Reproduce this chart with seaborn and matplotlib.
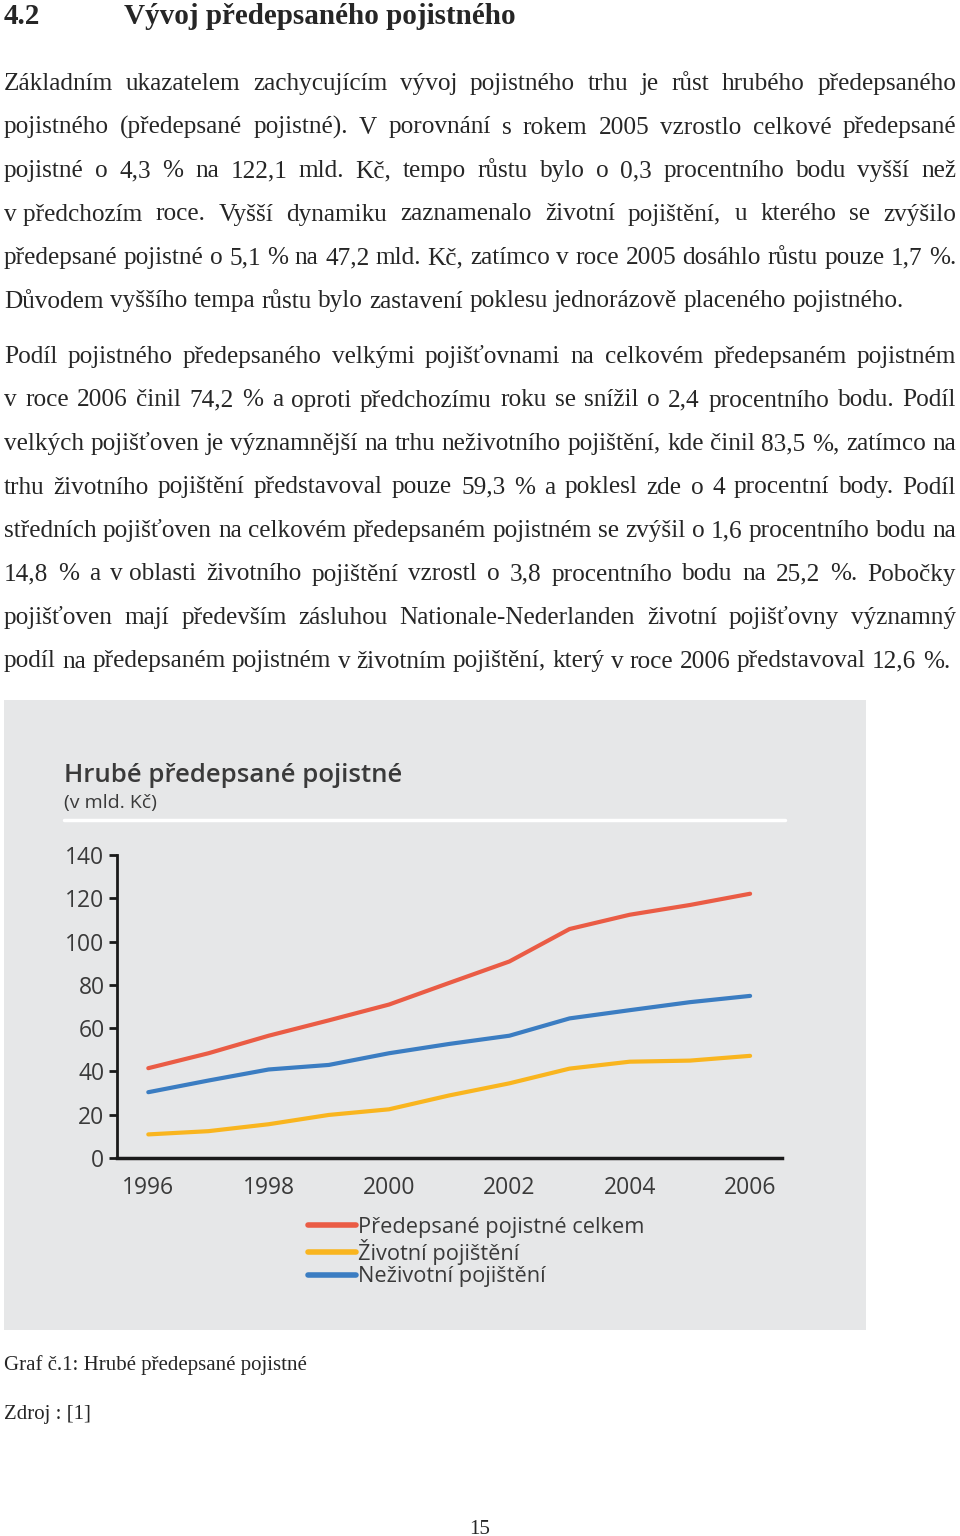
"""Page with text and the chart Hrube predepsane pojistne"""

import pandas as pd
import matplotlib.pyplot as plt
import seaborn as sns

W, H = 960, 1536
SERIF = 'Liberation Serif'
SANS = 'Open Sans'
INK = '#3a3a3a'

# Data ################################################
YEARS = [1996, 1997, 1998, 1999, 2000, 2001, 2002, 2003, 2004, 2005, 2006]
TOTAL = [41.5, 48.4, 56.5, 63.6, 70.9, 80.9, 90.8, 105.8, 112.4, 116.9, 122.1]
LIFE = [10.9, 12.4, 15.6, 19.9, 22.5, 28.9, 34.5, 41.3, 44.5, 45.0, 47.2]
NONLIFE = [30.4, 35.8, 40.9, 43.0, 48.4, 52.7, 56.5, 64.5, 68.3, 72.0, 74.9]
SERIES = ['Předepsané pojistné celkem', 'Životní pojištění', 'Neživotní pojištění']
COLORS = ['#ea5c45', '#f9b51f', '#3b7dc2']
Y_TICKS = [0, 20, 40, 60, 80, 100, 120, 140]
X_TICKS = [1996, 1998, 2000, 2002, 2004, 2006]

HEADING_NUM = '4.2'
HEADING = 'Vývoj předepsaného pojistného'
PARA1 = [
    'Základním ukazatelem zachycujícím vývoj pojistného trhu je růst hrubého předepsaného',
    'pojistného (předepsané pojistné). V porovnání s rokem 2005 vzrostlo celkové předepsané',
    'pojistné o 4,3 % na 122,1 mld. Kč, tempo růstu bylo o 0,3 procentního bodu vyšší než',
    'v\u00a0předchozím roce. Vyšší dynamiku zaznamenalo životní pojištění, u kterého se zvýšilo',
    'předepsané pojistné o 5,1 % na 47,2 mld. Kč, zatímco v roce 2005 dosáhlo růstu pouze 1,7 %.',
    'Důvodem vyššího tempa růstu bylo zastavení poklesu jednorázově placeného pojistného.',
]
PARA2 = [
    'Podíl pojistného předepsaného velkými pojišťovnami na celkovém předepsaném pojistném',
    'v roce 2006 činil 74,2 % a oproti předchozímu roku se snížil o 2,4 procentního bodu. Podíl',
    'velkých pojišťoven je významnější na trhu neživotního pojištění, kde činil 83,5 %, zatímco na',
    'trhu životního pojištění představoval pouze 59,3 % a poklesl zde o 4 procentní body. Podíl',
    'středních pojišťoven na celkovém předepsaném pojistném se zvýšil o 1,6 procentního bodu na',
    '14,8 % a v\u00a0oblasti životního pojištění vzrostl o 3,8 procentního bodu na 25,2 %. Pobočky',
    'pojišťoven mají především zásluhou Nationale-Nederlanden životní pojišťovny významný',
    'podíl na předepsaném pojistném v životním pojištění, který v roce 2006 představoval 12,6 %.',
]
CAPTION = 'Graf č.1: Hrubé předepsané pojistné'
SOURCE = 'Zdroj : [1]'
PAGE = '15'

BODY_SIZE = 18.2
LINE_STEP = 43.5


def fx(px):
    return px / W


def fy(px):
    return 1 - px / H


def put_line(fig, renderer, line, x0, x1, base, justify):
    """Place one line of text word by word, justified between x0 and x1."""
    words = line.split(' ')
    texts = [fig.text(0, 0, w, fontfamily=SERIF, fontsize=BODY_SIZE,
                      va='baseline', ha='left') for w in words]
    widths = [t.get_window_extent(renderer).width for t in texts]
    if justify and len(words) > 1:
        gap = (x1 - x0 - sum(widths)) / (len(words) - 1)
    else:
        probe = fig.text(0, 0, 'a a', fontfamily=SERIF, fontsize=BODY_SIZE)
        probe2 = fig.text(0, 0, 'aa', fontfamily=SERIF, fontsize=BODY_SIZE)
        gap = (probe.get_window_extent(renderer).width
               - probe2.get_window_extent(renderer).width)
        probe.remove()
        probe2.remove()
    x = x0
    for t, w in zip(texts, widths):
        t.set_position((fx(x), fy(base)))
        x += w + gap


sns.set_theme(style='white')
plt.rcParams['font.family'] = [SANS, 'DejaVu Sans']

fig = plt.figure(figsize=(W / 100, H / 100), dpi=100, facecolor='white')
renderer = fig.canvas.get_renderer()

# Page text ################################################
fig.text(fx(4), fy(24), HEADING_NUM, fontfamily=SERIF, fontsize=21,
         fontweight='bold', va='baseline')
fig.text(fx(124), fy(24), HEADING, fontfamily=SERIF, fontsize=21,
         fontweight='bold', va='baseline')

for i, line in enumerate(PARA1):
    put_line(fig, renderer, line, 4, 956, 90 + i * LINE_STEP, i < len(PARA1) - 1)
for i, line in enumerate(PARA2):
    put_line(fig, renderer, line, 4, 956, 363 + i * LINE_STEP, i < len(PARA2) - 1)

fig.text(fx(4), fy(1370), CAPTION, fontfamily=SERIF, fontsize=15, va='baseline')
fig.text(fx(4), fy(1419), SOURCE, fontfamily=SERIF, fontsize=15, va='baseline')
fig.text(fx(480), fy(1534), PAGE, fontfamily=SERIF, fontsize=15,
         va='baseline', ha='center')

# Grey panel ################################################
panel = fig.add_axes([fx(4), fy(1330), (866 - 4) / W, (1330 - 700) / H])
panel.set_facecolor('#e6e7e8')
panel.set_xticks([])
panel.set_yticks([])
for s in panel.spines.values():
    s.set_visible(False)
panel.set_xlim(0, 1)
panel.set_ylim(0, 1)
panel.text(60 / 862, 1 - 82 / 630, 'Hrubé předepsané pojistné', fontsize=18.5,
           fontweight='semibold', color=INK, va='baseline',
           transform=panel.transAxes)
panel.text(60 / 862, 1 - 108 / 630, '(v mld. Kč)', fontsize=14,
           color=INK, va='baseline', transform=panel.transAxes)
panel.plot([60 / 862, 781 / 862], [1 - 120 / 630] * 2, color='white', lw=2.5)

# Chart ################################################
df = pd.DataFrame({
    'year': YEARS * 3,
    'value': TOTAL + LIFE + NONLIFE,
    'series': [SERIES[0]] * len(YEARS) + [SERIES[1]] * len(YEARS)
    + [SERIES[2]] * len(YEARS),
})

ax = fig.add_axes([fx(117), fy(1158), (782 - 117) / W, (1158 - 855) / H])
ax.patch.set_alpha(0)
sns.lineplot(data=df, x='year', y='value', hue='series', hue_order=SERIES,
             palette=dict(zip(SERIES, COLORS)), linewidth=3, ax=ax)
ax.set_xlim(1995.48, 2006.53)
ax.set_ylim(0, 140)
ax.set_xticks(X_TICKS)
ax.set_yticks(Y_TICKS)
ax.set_xlabel('')
ax.set_ylabel('')
for side in ['top', 'right']:
    ax.spines[side].set_visible(False)
ax.spines['left'].set_color('#1a1a1a')
ax.spines['left'].set_linewidth(2)
ax.spines['bottom'].set_color('#1a1a1a')
ax.spines['bottom'].set_linewidth(2.5)
ax.tick_params(axis='y', left=True, length=6, width=2, color='#1a1a1a',
               labelsize=16.5, labelcolor=INK, pad=3)
ax.tick_params(axis='x', bottom=False, labelsize=16.5, labelcolor=INK, pad=7)

leg = ax.legend(loc='upper left', bbox_to_anchor=(fx(308), fy(1217)),
                bbox_transform=fig.transFigure, frameon=False,
                handlelength=2.2, handletextpad=0.1, labelspacing=0.05,
                fontsize=15.7, borderaxespad=0, borderpad=0)
for t in leg.get_texts():
    t.set_color(INK)
for h in leg.get_lines():
    h.set_linewidth(4)

fig.savefig('out.png', dpi=100, facecolor='white')
plt.close(fig)
